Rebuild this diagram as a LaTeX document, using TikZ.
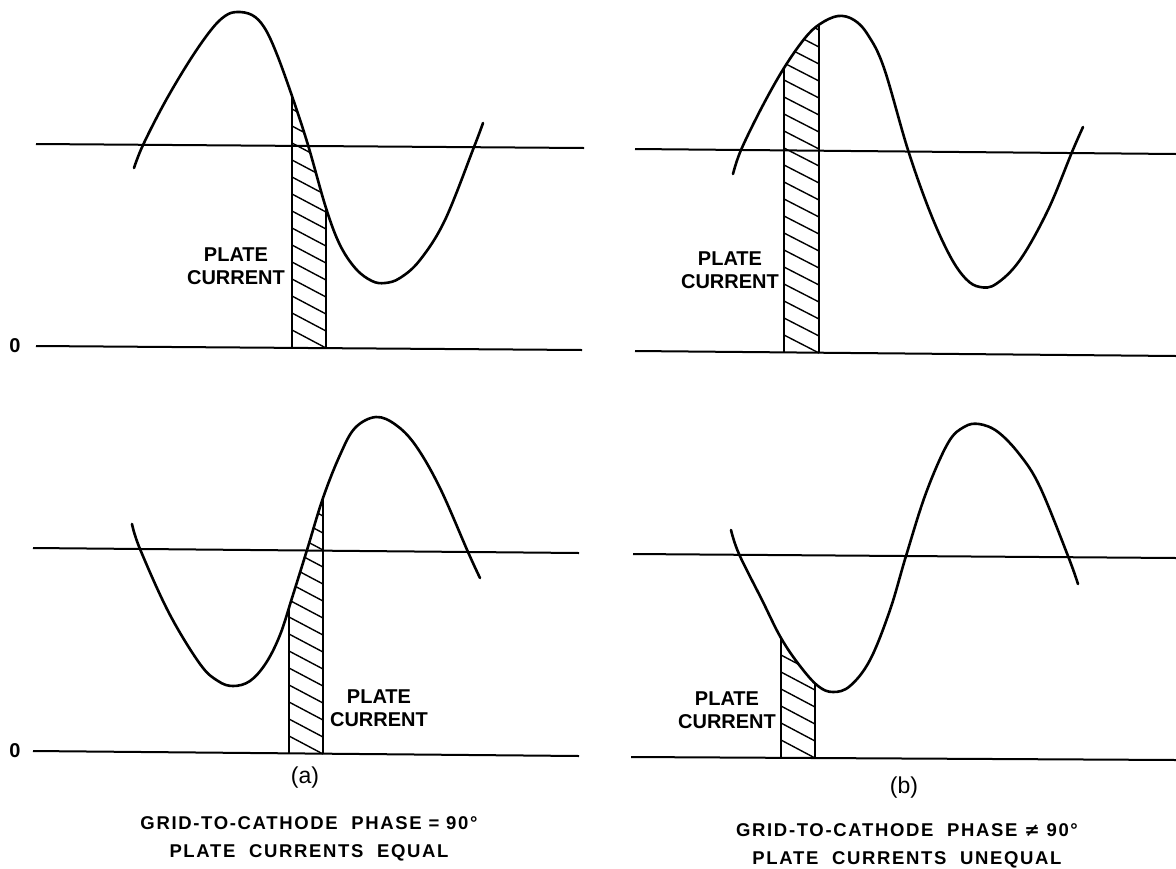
\documentclass[tikz,border=0pt]{standalone}
\usepackage{fontspec}
\setmainfont{Liberation Sans}
\newfontfamily\lblfont{Liberation Sans}
\newfontfamily\capfont[LetterSpace=9]{Liberation Sans}
\newfontfamily\symfont{DejaVu Sans}
\begin{document}
\begin{tikzpicture}[x=1pt,y=-1pt,
  curve/.style={line width=2.6pt,line join=round,line cap=round},
  axisline/.style={line width=2pt},
  hatchline/.style={line width=1.4pt},
  hedge/.style={line width=2.5pt},
  lbl/.style={font=\lblfont\bfseries\fontsize{20}{23}\selectfont,align=center,inner sep=0pt},
  tag/.style={font=\lblfont\fontsize{23}{25}\selectfont,inner sep=0pt},
  caption/.style={font=\capfont\bfseries\fontsize{18.5}{28}\selectfont,align=center,inner sep=0pt}]
\fill[white] (0,0) rectangle (1176,868);
\useasboundingbox (0,0) rectangle (1176,868);

% ---------------- panel (a) top ----------------
\draw[axisline] (36,144) -- (584,148);
\draw[axisline] (36,346) -- (582,350);
\node[lbl] (zeroAT) at (15,346) {0};
\begin{scope}
\clip plot[smooth,tension=0.6] coordinates {(134,168) (143,145) (165,102) (190,60) (211,30) (225,16) (237,12) (252,15) (264,27) (276,52) (292,96) (308,145) (326,208) (340,245) (356,269) (372,281) (385,283) (400,278) (420,260) (445,220) (474,147) (483,123)} -- (483,400) -- (134,400) -- cycle;
\clip (288,0) rectangle (330,348);
\foreach \k in {0,...,22} \draw[hatchline] (292,{330-17*\k}) -- (326,{348-17*\k});
\draw[hedge] (292,0) -- (292,348);
\draw[hedge] (326,0) -- (326,348);
\end{scope}
\draw[curve] plot[smooth,tension=0.6] coordinates {(134,168) (143,145) (165,102) (190,60) (211,30) (225,16) (237,12) (252,15) (264,27) (276,52) (292,96) (308,145) (326,208) (340,245) (356,269) (372,281) (385,283) (400,278) (420,260) (445,220) (474,147) (483,123)};
\node[lbl] (pcAT) at (236,266) {PLATE\\CURRENT};

% ---------------- panel (b) top ----------------
\draw[axisline] (635,149) -- (1176,154);
\draw[axisline] (635,351) -- (1176,356);
\begin{scope}
\clip plot[smooth,tension=0.6] coordinates {(733,174) (741,150) (762,107) (784,68) (805,38) (820,24) (838,16) (854,20) (868,35) (884,68) (908,150) (930,212) (950,256) (966,279) (980,287) (996,284) (1020,260) (1048,210) (1072,152) (1083,127)} -- (1083,400) -- (733,400) -- cycle;
\clip (780,0) rectangle (823,353);
\foreach \k in {0,...,22} \draw[hatchline] (784,{335-17*\k}) -- (819,{353-17*\k});
\draw[hedge] (784,0) -- (784,353);
\draw[hedge] (819,0) -- (819,353);
\end{scope}
\draw[curve] plot[smooth,tension=0.6] coordinates {(733,174) (741,150) (762,107) (784,68) (805,38) (820,24) (838,16) (854,20) (868,35) (884,68) (908,150) (930,212) (950,256) (966,279) (980,287) (996,284) (1020,260) (1048,210) (1072,152) (1083,127)};
\node[lbl] (pcBT) at (730,270) {PLATE\\CURRENT};

% ---------------- panel (a) bottom ----------------
\draw[axisline] (33,548) -- (579,553);
\draw[axisline] (33,751) -- (579,756);
\node[lbl] (zeroAB) at (15,751) {0};
\begin{scope}
\clip plot[smooth,tension=0.6] coordinates {(132,524) (140,549) (169,613) (200,664) (218,681) (233,686) (250,681) (266,663) (280,635) (292,598) (307,550) (323,498) (340,455) (355,428) (376,417) (396,425) (416,446) (440,488) (468,552) (480,578)} -- (480,800) -- (132,800) -- cycle;
\clip (285,300) rectangle (327,754);
\foreach \k in {0,...,22} \draw[hatchline] (289,{736-17*\k}) -- (323,{754-17*\k});
\draw[hedge] (289,300) -- (289,754);
\draw[hedge] (323,300) -- (323,754);
\end{scope}
\draw[curve] plot[smooth,tension=0.6] coordinates {(132,524) (140,549) (169,613) (200,664) (218,681) (233,686) (250,681) (266,663) (280,635) (292,598) (307,550) (323,498) (340,455) (355,428) (376,417) (396,425) (416,446) (440,488) (468,552) (480,578)};
\node[lbl] (pcAB) at (379,708) {PLATE\\CURRENT};
\node[tag] (tagA) at (305,778) {(a)};
\node[caption] (capA) at (309,839) {GRID-TO-CATHODE\ \ PHASE = 90°\\PLATE\ \ CURRENTS\ \ EQUAL};

% ---------------- panel (b) bottom ----------------
\draw[axisline] (633,554) -- (1176,558);
\draw[axisline] (631,757) -- (1176,760);
\begin{scope}
\clip plot[smooth,tension=0.6] coordinates {(731,530) (739,554) (762,600) (781,638) (800,666) (818,686) (833,692) (850,686) (870,660) (890,610) (906,556) (926,493) (948,443) (964,427) (979,424) (998,432) (1020,455) (1040,487) (1068,556) (1078,584)} -- (1078,800) -- (731,800) -- cycle;
\clip (777,300) rectangle (819,758);
\foreach \k in {0,...,22} \draw[hatchline] (781,{740-17*\k}) -- (815,{758-17*\k});
\draw[hedge] (781,300) -- (781,758);
\draw[hedge] (815,300) -- (815,758);
\end{scope}
\draw[curve] plot[smooth,tension=0.6] coordinates {(731,530) (739,554) (762,600) (781,638) (800,666) (818,686) (833,692) (850,686) (870,660) (890,610) (906,556) (926,493) (948,443) (964,427) (979,424) (998,432) (1020,455) (1040,487) (1068,556) (1078,584)};
\node[lbl] (pcBB) at (727,710) {PLATE\\CURRENT};
\node[tag] (tagB) at (904,788) {(b)};
\node[caption] (capB) at (907,846) {GRID-TO-CATHODE\ \ PHASE {\symfont\bfseries ≠} 90°\\PLATE\ \ CURRENTS\ \ UNEQUAL};
\end{tikzpicture}
\end{document}
